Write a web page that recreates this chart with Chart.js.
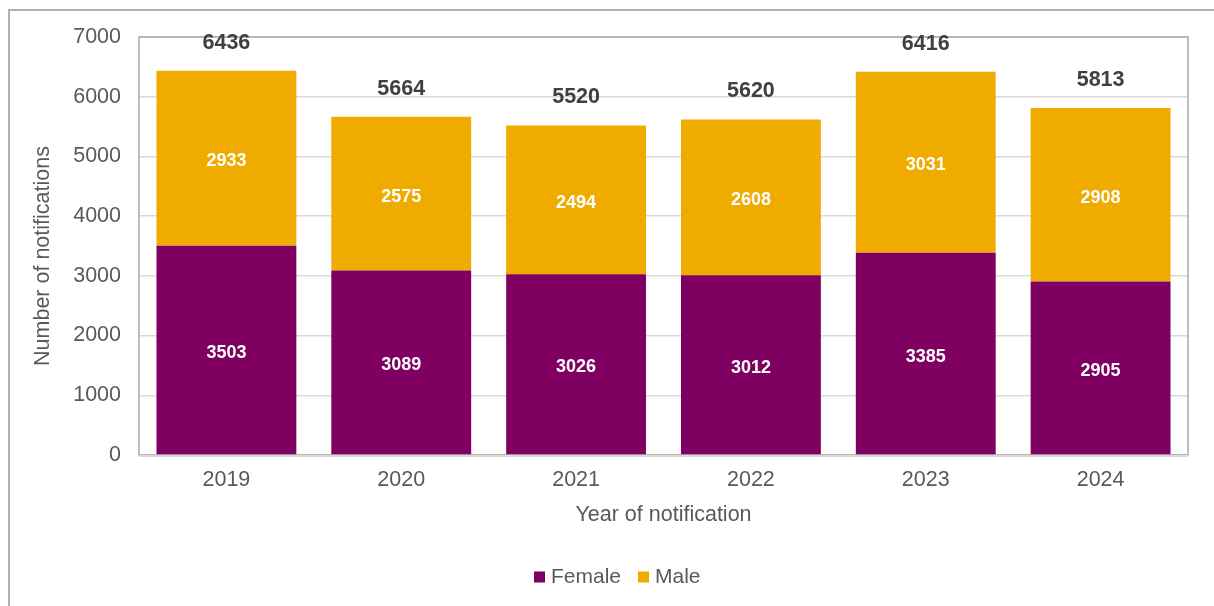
<!DOCTYPE html>
<html lang="en">
<head>
    <meta charset="UTF-8">
    <title>Notifications by sex</title>
    <script src="https://cdn.jsdelivr.net/npm/chart.js"></script>
    <style>
        html, body { margin: 0; padding: 0; background: #fff; }
        .frame {
            position: absolute; left: 8px; top: 9px; width: 1300px; height: 700px;
            border-left: 2px solid #b9aea3; border-top: 2px solid #b9aea3;
        }
        .wrap { position: absolute; left: 0; top: 0; width: 1214px; height: 606px; }
    </style>
</head>
<body>
    <div class="frame"></div>
    <div class="wrap"><canvas id="sexChart" width="1214" height="606"></canvas></div>

    <script>
        const years = ['2019', '2020', '2021', '2022', '2023', '2024'];
        const female = [3503, 3089, 3026, 3012, 3385, 2905];
        const male = [2933, 2575, 2494, 2608, 3031, 2908];
        const totals = [6436, 5664, 5520, 5620, 6416, 5813];

        const font = 'Liberation Sans, Arial, sans-serif';
        const txt = 21.5;
        const grey = '#595959';

        // plot box, segment values, totals, y title and legend
        const labelsPlugin = {
            id: 'labels',
            beforeDatasetsDraw(chart) {
                const { ctx, chartArea: a } = chart;
                ctx.save();
                ctx.strokeStyle = '#b3a89e';
                ctx.lineWidth = 1.5;
                ctx.strokeRect(a.left, a.top, a.right - a.left, a.bottom - a.top);
                ctx.restore();
            },
            afterDatasetsDraw(chart) {
                const { ctx, chartArea: a } = chart;
                ctx.save();
                ctx.strokeStyle = '#d9d9d9';
                ctx.lineWidth = 2;
                ctx.beginPath();
                ctx.moveTo(a.left, a.bottom + 1);
                ctx.lineTo(a.right, a.bottom + 1);
                ctx.stroke();

                ctx.textAlign = 'center';
                ctx.textBaseline = 'middle';
                ctx.fillStyle = '#ffffff';
                ctx.font = 'bold 18px ' + font;
                chart.data.datasets.forEach((ds, i) => {
                    chart.getDatasetMeta(i).data.forEach((bar, j) => {
                        const mid = (bar.y + bar.base) / 2;
                        ctx.fillText(ds.data[j], bar.x, mid + 3);
                    });
                });

                const y = chart.scales.y;
                ctx.fillStyle = '#404040';
                ctx.font = 'bold ' + txt + 'px ' + font;
                chart.getDatasetMeta(1).data.forEach((bar, j) => {
                    ctx.fillText(totals[j], bar.x, y.getPixelForValue(totals[j]) - 28);
                });

                // y axis title
                ctx.fillStyle = grey;
                ctx.font = txt + 'px ' + font;
                ctx.save();
                ctx.translate(43, 256);
                ctx.rotate(-Math.PI / 2);
                ctx.fillText('Number of notifications', 0, 0);
                ctx.restore();

                // legend
                ctx.textAlign = 'left';
                ctx.font = '21px ' + font;
                let x = 534;
                const ly = 577;
                chart.data.datasets.forEach(ds => {
                    ctx.fillStyle = ds.backgroundColor;
                    ctx.fillRect(x, ly - 5.5, 11, 11);
                    x += 17;
                    ctx.fillStyle = grey;
                    ctx.fillText(ds.label, x, ly);
                    x += ctx.measureText(ds.label).width + 17;
                });
                ctx.restore();
            }
        };

        new Chart(document.getElementById('sexChart'), {
            type: 'bar',
            data: {
                labels: years,
                datasets: [
                    { label: 'Female', data: female, backgroundColor: '#7f0060' },
                    { label: 'Male', data: male, backgroundColor: '#efab00' }
                ]
            },
            options: {
                responsive: false,
                animation: false,
                barPercentage: 0.8,
                categoryPercentage: 1,
                layout: { padding: { left: 26, top: 37, right: 26, bottom: 48 } },
                plugins: {
                    tooltip: { enabled: false },
                    legend: { display: false }
                },
                scales: {
                    x: {
                        stacked: true,
                        grid: { display: false, drawTicks: false },
                        border: { display: false },
                        ticks: { color: grey, padding: 12, font: { size: txt, family: font } },
                        title: {
                            display: true, text: 'Year of notification', color: grey,
                            font: { size: txt, family: font }, padding: { top: 4, bottom: 30 }
                        },
                        afterFit(s) { s.height = 103; }
                    },
                    y: {
                        stacked: true,
                        min: 0, max: 7000,
                        grid: { color: '#d9d9d9', lineWidth: 1.5, drawTicks: false },
                        border: { display: false },
                        ticks: {
                            stepSize: 1000, color: grey, padding: 18,
                            font: { size: txt, family: font },
                            callback: v => String(v)
                        },
                        afterFit(s) { s.width = 113; }
                    }
                }
            },
            plugins: [labelsPlugin]
        });
    </script>
</body>
</html>
